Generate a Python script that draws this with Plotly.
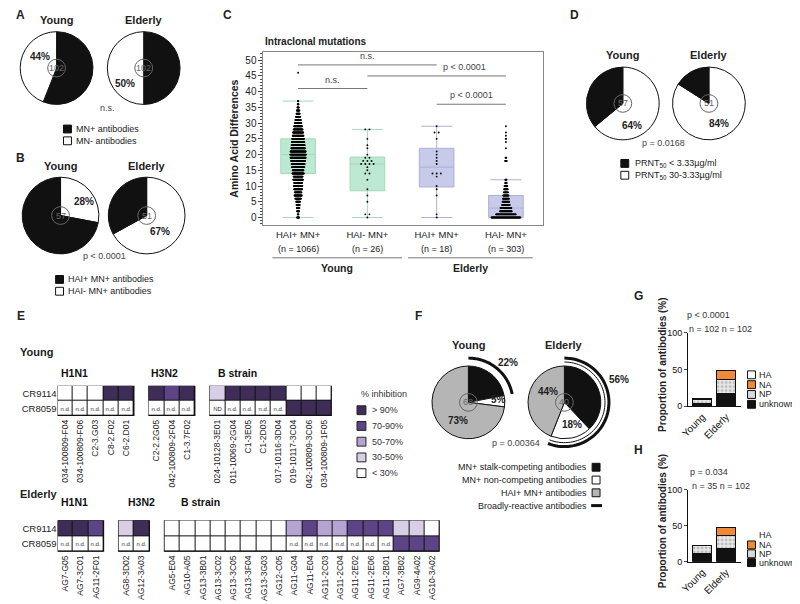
import math
from collections import Counter
import plotly.graph_objects as go

# the page adds an 8px body margin, so the figure is drawn 8px smaller and
# every reference pixel position is shifted by that offset
OFF = 8
W, H = 800 - OFF, 604 - OFF
FONT = "Arial, Liberation Sans, sans-serif"
BLACK = "#111111"
GREY = "#b5b5b5"
ORANGE = "#ef8a3a"
PURPLES = ["#ffffff", "#d8cfe6", "#b5a4d2", "#5d4487", "#3e2d57"]

# ---- panel A / B / D / F pie data (Young, Elderly) ----
a_mn_pos = [56, 50]
a_mn_neg = [44, 50]
a_n = [102, 102]

b_hai_neg = [28, 67]
b_hai_pos = [72, 33]
b_n = [57, 51]

d_high = [64, 84]
d_low = [36, 16]
d_n = [57, 51]

f_stalk = [22, 38]
f_noncomp = [5, 18]
f_hai = [73, 44]
f_broad = [22, 56]
f_n = [68, 40]

# ---- panel C ----
c_labels = ["HAI+ MN+", "HAI- MN+", "HAI+ MN+", "HAI- MN+"]
c_n = [1066, 26, 18, 303]
c_q1 = [14, 8.5, 9.7, 0]
c_median = [20, 17, 16, 3]
c_q3 = [25, 19.2, 22, 7]
c_lowfence = [0, 0, 0, 0]
c_upfence = [37, 28, 29, 12]

c_yhp_values = list(range(38)) + [46]
c_yhp_counts = [8, 4, 8, 10, 12, 14, 20, 26, 24, 28, 30, 28, 34, 32, 40, 38, 44, 46,
                49, 53, 55, 53, 48, 46, 44, 42, 38, 36, 32, 28, 24, 20, 16, 12, 10, 6, 4, 3, 1]
c_yhn_points = [0, 1, 1, 5, 7, 9, 12, 14, 14, 15, 16, 17, 17, 17, 17, 18, 18, 18, 19, 19,
                20, 22, 23, 25, 28, 28]
c_ehp_points = [0, 1, 7, 9, 10, 13, 14, 14, 14, 17, 18, 19, 20, 21, 25, 27, 27, 29]
c_ehn_values = [0, 1, 2, 3, 4, 5, 6, 7, 8, 9, 10, 11, 12, 18, 19, 22, 24, 25, 26, 27, 29]
c_ehn_counts = [73, 50, 30, 28, 20, 18, 16, 14, 12, 10, 8, 5, 4, 5, 3, 1, 1, 2, 1, 1, 1]

# ---- panel E (codes: 0 <30, 1 30-50, 2 50-70, 3 70-90, 4 >90, -1 n.d., -2 ND) ----
ey_h1_names = ["034-100809-F04", "034-100809-F06", "C2-3.G03", "C8-2.F02", "C6-2.D01"]
ey_h1_cr9114 = [0, 0, 0, 4, 4]
ey_h1_cr8059 = [-1, -1, -1, -1, -1]
ey_h3_names = ["C2-2.2G05", "042-100809-2F04", "C1-3.7F02"]
ey_h3_cr9114 = [4, 3, 4]
ey_h3_cr8059 = [-1, -1, -1]
ey_b_names = ["024-10128-3E01", "011-10069-2G04", "C1-3E05", "C1-2D03", "017-10116-3D04",
              "019-10117-3C04", "042-100809-3C06", "034-100809-1F05"]
ey_b_cr9114 = [1, 4, 4, 4, 4, 0, 0, 0]
ey_b_cr8059 = [-2, -1, -1, -1, -1, 4, 4, 4]

ee_h1_names = ["AG7-G05", "AG7-3C01", "AG11-2F01"]
ee_h1_cr9114 = [4, 4, 3]
ee_h1_cr8059 = [-1, -1, -1]
ee_h3_names = ["AG8-3D02", "AG12-3A03"]
ee_h3_cr9114 = [1, 4]
ee_h3_cr8059 = [-1, -1]
ee_b_names = ["AG5-E04", "AG10-A05", "AG13-3B01", "AG13-3C02", "AG13-3C05", "AG13-3F04",
              "AG13-3G03", "AG12-C05", "AG11-G04", "AG11-E04", "AG11-2C03", "AG11-2C04",
              "AG11-2E02", "AG11-2E06", "AG11-2B01", "AG7-3B02", "AG9-4A02", "AG10-3A02"]
ee_b_cr9114 = [0, 0, 0, 0, 0, 0, 0, 0, 2, 3, 2, 2, 3, 3, 3, 1, 1, 0]
ee_b_cr8059 = [0, 0, 0, 0, 0, 0, 0, 0, -1, -1, -1, -1, -1, -1, -1, 3, 3, 3]
e_rows = ["CR9114", "CR8059"]
e_legend = ["> 90%", "70-90%", "50-70%", "30-50%", "< 30%"]

# ---- panels G / H ----
gh_groups = ["Young", "Elderly"]
g_unknown = [4, 18]
g_np = [5, 18]
g_na = [1.5, 12]
g_ha = [0, 0]
h_unknown = [12, 19]
h_np = [11, 17]
h_na = [0, 12]
h_ha = [0, 0]


def px(x):
    return (x - OFF) / W


def py(y):
    return 1 - (y - OFF) / H


annotations = []
shapes = []


def txt(s, x, y, size=9, bold=False, xanchor="center", color="#222", angle=0):
    if bold:
        s = "<b>" + s + "</b>"
    annotations.append(dict(text=s, x=px(x), y=py(y), xref="paper", yref="paper",
                            showarrow=False, xanchor=xanchor, yanchor="middle",
                            textangle=angle, font=dict(family=FONT, size=size, color=color)))


def square(x, y, fill, size=8, line="#111"):
    h = size / 2
    shapes.append(dict(type="rect", xref="paper", yref="paper", x0=px(x - h), x1=px(x + h),
                       y0=py(y + h), y1=py(y - h), fillcolor=fill, line=dict(color=line, width=1)))


fig = go.Figure()


def add_pie(values, colors, cx, cy, r, n):
    fig.add_trace(go.Pie(
        values=values, sort=False, direction="clockwise", rotation=0,
        marker=dict(colors=colors, line=dict(color=BLACK, width=1)),
        textinfo="none", hoverinfo="skip", showlegend=False,
        domain=dict(x=[px(cx - r), px(cx + r)], y=[py(cy + r), py(cy - r)])))
    shapes.append(dict(type="circle", xref="paper", yref="paper", x0=px(cx - 9), x1=px(cx + 9),
                       y0=py(cy + 9), y1=py(cy - 9), line=dict(color="#666", width=1)))
    txt(str(n), cx, cy, size=9, color="#666")


# ---------- panel A ----------
txt("A", 13, 10, 12, True)
for i, (cx, g) in enumerate(zip([49, 137], ["Young", "Elderly"])):
    add_pie([a_mn_pos[i], a_mn_neg[i]], [BLACK, "white"], cx, 64, 37, a_n[i])
    txt(g, cx, 15, 11, True)
txt("%d%%" % a_mn_neg[0], 32, 52, 10, True)
txt("%d%%" % a_mn_neg[1], 118, 80, 10, True)
txt("n.s.", 100, 105, 9, color="#444")
square(60, 126, BLACK)
txt("MN+ antibodies", 67, 126, 9, xanchor="left")
square(60, 138, "white")
txt("MN- antibodies", 67, 138, 9, xanchor="left")

# ---------- panel B ----------
txt("B", 13, 155, 12, True)
for i, (cx, g) in enumerate(zip([53, 140], ["Young", "Elderly"])):
    add_pie([b_hai_neg[i], b_hai_pos[i]], ["white", BLACK], cx, 214, 39, b_n[i])
    txt(g, cx, 164, 11, True)
txt("%d%%" % b_hai_neg[0], 77, 200, 10, True)
txt("%d%%" % b_hai_neg[1], 153, 230, 10, True)
txt("p < 0.0001", 97, 255, 9, color="#444")
square(52, 279, BLACK)
txt("HAI+ MN+ antibodies", 59, 279, 9, xanchor="left")
square(52, 291, "white")
txt("HAI- MN+ antibodies", 59, 291, 9, xanchor="left")

# ---------- panel D ----------
txt("D", 572, 10, 12, True)
for i, (cx, g) in enumerate(zip([621, 708], ["Young", "Elderly"])):
    add_pie([d_high[i], d_low[i]], ["white", BLACK], cx, 100, 37, d_n[i])
    txt(g, cx, 51, 11, True)
txt("%d%%" % d_high[0], 630, 122, 10, True)
txt("%d%%" % d_high[1], 718, 120, 10, True)
txt("p = 0.0168", 662, 140, 9, color="#444")
square(623, 161, BLACK)
txt("PRNT<sub>50</sub> < 3.33µg/ml", 631, 161, 9, xanchor="left")
square(623, 173, "white")
txt("PRNT<sub>50</sub> 30-3.33µg/ml", 631, 173, 9, xanchor="left")

# ---------- panel F ----------
txt("F", 415, 316, 12, True)


def arc_path(cx, cy, r, f0, f1, n=60):
    pts = []
    for k in range(n + 1):
        a = 2 * math.pi * (f0 + (f1 - f0) * k / n)
        pts.append("%.5f,%.5f" % (px(cx + r * math.sin(a)), py(cy - r * math.cos(a))))
    return "M " + " L ".join(pts)


for i, (cx, g) in enumerate(zip([465, 562], ["Young", "Elderly"])):
    add_pie([f_stalk[i], f_noncomp[i], f_hai[i]], [BLACK, "white", GREY], cx, 404, 37, f_n[i])
    txt(g, cx, 346, 11, True)
    shapes.append(dict(type="path", xref="paper", yref="paper",
                       path=arc_path(cx, 404, 45, 0, f_broad[i] / 100),
                       line=dict(color=BLACK, width=3)))
shapes.append(dict(type="path", xref="paper", yref="paper",
                   path=arc_path(562, 404, 41, 0, f_broad[1] / 100),
                   line=dict(color=BLACK, width=1)))
txt("%d%%" % f_broad[0], 505, 363, 10, True)
txt("%d%%" % f_noncomp[0], 495, 401, 10, True)
txt("%d%%" % f_hai[0], 455, 422, 10, True)
txt("%d%%" % f_hai[1], 545, 393, 10, True)
txt("%d%%" % f_noncomp[1], 570, 427, 10, True)
txt("%d%%" % f_broad[1], 617, 381, 10, True)
txt("p = 0.00364", 513, 445, 9, color="#444")
for y, lab, fill in [(470, "MN+ stalk-competing antibodies", BLACK),
                     (483, "MN+ non-competing antibodies", "white"),
                     (496, "HAI+ MN+ antibodies", GREY)]:
    txt(lab, 587, y, 9, xanchor="right")
    square(594, y, fill)
txt("Broadly-reactive antibodies", 587, 509, 9, xanchor="right")
shapes.append(dict(type="line", xref="paper", yref="paper", x0=px(589), x1=px(600),
                   y0=py(509), y1=py(509), line=dict(color=BLACK, width=3)))

# ---------- panel C ----------
txt("C", 222, 10, 12, True)
txt("Intraclonal mutations", 258, 37, 10, True, xanchor="left")
txt("Amino Acid Differences", 228, 136, 10.5, True, angle=-90)


def swarm(center, values, counts, step):
    # lay each value's points side by side in one row
    xs, ys = [], []
    for v, n in zip(values, counts):
        for k in range(n):
            xs.append(center + (k - (n - 1) / 2) * step)
            ys.append(v)
    return xs, ys


for idxs, fill, line in [([0, 1], "#bde8d2", "#a3d8bc"), ([2, 3], "#c8cae9", "#aeb1da")]:
    fig.add_trace(go.Box(
        x=idxs, q1=[c_q1[i] for i in idxs], median=[c_median[i] for i in idxs],
        q3=[c_q3[i] for i in idxs], lowerfence=[c_lowfence[i] for i in idxs],
        upperfence=[c_upfence[i] for i in idxs], fillcolor=fill,
        line=dict(color=line, width=1), width=0.5, whiskerwidth=0.9,
        hoverinfo="skip", showlegend=False, xaxis="x", yaxis="y"))

cnt_yhn = sorted(Counter(c_yhn_points).items())
cnt_ehp = sorted(Counter(c_ehp_points).items())
point_sets = [
    (0, c_yhp_values, c_yhp_counts, 0.0042),
    (1, [v for v, _ in cnt_yhn], [c for _, c in cnt_yhn], 0.06),
    (2, [v for v, _ in cnt_ehp], [c for _, c in cnt_ehp], 0.06),
    (3, c_ehn_values, c_ehn_counts, 0.0058),
]
for center, vals, cnts, step in point_sets:
    xs, ys = swarm(center, vals, cnts, step)
    fig.add_trace(go.Scatter(x=xs, y=ys, mode="markers", marker=dict(color="black", size=1.9),
                             hoverinfo="skip", showlegend=False, xaxis="x", yaxis="y"))

brackets = [(0, 2, 48.5, "n.s.", 1.0), (0, 1, 41, "n.s.", 0.5),
            (1, 3, 45, "p < 0.0001", 2.4), (2, 3, 36, "p < 0.0001", 2.5)]
for a, b, h, lab, lx in brackets:
    shapes.append(dict(type="line", xref="x", yref="y", x0=a, x1=b, y0=h, y1=h,
                       line=dict(color="#777", width=1)))
    annotations.append(dict(text=lab, x=lx, y=h + 0.6, xref="x", yref="y", showarrow=False,
                            yanchor="bottom", font=dict(family=FONT, size=9, color="#444")))
for i, n in enumerate(c_n):
    annotations.append(dict(text="(n = %d)" % n, x=i, y=py(248), xref="x", yref="paper",
                            showarrow=False, font=dict(family=FONT, size=9, color="#222")))
for x0, x1, lab in [(267, 398, "Young"), (404, 530, "Elderly")]:
    shapes.append(dict(type="line", xref="paper", yref="paper", x0=px(x0), x1=px(x1),
                       y0=py(257), y1=py(257), line=dict(color="#777", width=1)))
    txt(lab, (x0 + x1) / 2, 267, 10.5, True)

# ---------- panel E ----------
txt("E", 13, 316, 12, True)
txt("Young", 10, 353, 11, True, xanchor="left")
txt("Elderly", 10, 497, 11, True, xanchor="left")


def build_rows(groups):
    z, text, tv, tt, spans = [[], []], [[], []], [], [], []
    col = 0
    for gi, (names, r1, r2) in enumerate(groups):
        if gi > 0:
            for row in (0, 1):
                z[row].append(None)
                text[row].append(" ")
            col += 1
        start = col
        for name, c1, c2 in zip(names, r1, r2):
            for row, code in ((0, c1), (1, c2)):
                z[row].append(max(code, 0))
                text[row].append({-1: "n.d.", -2: "ND"}.get(code, " "))
            tv.append(col)
            tt.append(name)
            col += 1
        spans.append((start, col - 1))
    return z, text, tv, tt, spans


cscale = []
for k, c in enumerate(PURPLES):
    cscale += [[k / 5, c], [(k + 1) / 5, c]]

young_groups = [(ey_h1_names, ey_h1_cr9114, ey_h1_cr8059),
                (ey_h3_names, ey_h3_cr9114, ey_h3_cr8059),
                (ey_b_names, ey_b_cr9114, ey_b_cr8059)]
eld_groups = [(ee_h1_names, ee_h1_cr9114, ee_h1_cr8059),
              (ee_h3_names, ee_h3_cr9114, ee_h3_cr8059),
              (ee_b_names, ee_b_cr9114, ee_b_cr8059)]
layout_axes = {}
for ax, groups, (xl, xr), (yt, yb), title_y, shifts, tsize in [
        ("2", young_groups, (50, 327), (387, 418), 374, [1, 0, 6], 8.5),
        ("3", eld_groups, (50, 436), (524, 556), 513, [1, 7, 14], 8.5)]:
    z, text, tv, tt, spans = build_rows(groups)
    ncol = len(z[0])
    fig.add_trace(go.Heatmap(z=z, text=text, texttemplate="%{text}",
                             textfont=dict(family=FONT, size=6, color="#333"),
                             x=list(range(ncol)), y=[0, 1], colorscale=cscale,
                             zmin=-0.5, zmax=4.5, showscale=False, xgap=1, ygap=1,
                             hoverinfo="skip", xaxis="x" + ax, yaxis="y" + ax))
    for (s, e), gname, sh in zip(spans, ["H1N1", "H3N2", "B strain"], shifts):
        shapes.append(dict(type="rect", xref="x" + ax, yref="y" + ax, x0=s - 0.5, x1=e + 0.5,
                           y0=-0.5, y1=1.5, fillcolor=BLACK, line=dict(color=BLACK, width=1.5),
                           layer="below"))
        annotations.append(dict(text="<b>" + gname + "</b>", x=s - 0.5, y=py(title_y),
                                xref="x" + ax, yref="paper", xanchor="left", xshift=sh,
                                showarrow=False, font=dict(family=FONT, size=10.5, color="#111")))
    layout_axes["xaxis" + ax] = dict(domain=[px(xl), px(xr)], range=[-0.5, ncol - 0.5],
                                     tickvals=tv, ticktext=tt, tickangle=-90, ticks="",
                                     ticklabelstandoff=1,
                                     showgrid=False, zeroline=False, showline=False,
                                     tickfont=dict(family=FONT, size=tsize, color="#222"),
                                     anchor="y" + ax)
    layout_axes["yaxis" + ax] = dict(domain=[py(yb), py(yt)], range=[1.5, -0.5],
                                     tickvals=[0, 1], ticktext=e_rows, ticks="",
                                     showgrid=False, zeroline=False, showline=False,
                                     tickfont=dict(family=FONT, size=9.5, color="#222"),
                                     anchor="x" + ax)

txt("% inhibition", 380, 396, 9, color="#333")
for k, lab in enumerate(e_legend):
    y = 412 + 16 * k
    square(357, y, PURPLES[4 - k], size=9, line="#222")
    txt(lab, 366, y, 9, xanchor="left", color="#333")

# ---------- panels G / H ----------
for ax, letter, (y0, y100), unk, np_, na, ha, ptxt, ntxt, pyy, leg_rows, ha_box in [
        ("4", "G", (408, 333), g_unknown, g_np, g_na, g_ha, "p < 0.0001",
         "n = 102 n = 102", 296, [376, 386, 396, 406], True),
        ("5", "H", (566, 493), h_unknown, h_np, h_na, h_ha, "p = 0.034",
         "n = 35 n = 102", 452, [539, 549, 558, 567], False)]:
    common = dict(x=gh_groups, width=0.8, hoverinfo="skip", showlegend=False,
                  xaxis="x" + ax, yaxis="y" + ax)
    fig.add_trace(go.Bar(y=unk, marker=dict(color=BLACK, line=dict(color=BLACK, width=1)), **common))
    fig.add_trace(go.Bar(y=np_, marker=dict(color="#ececec", line=dict(color=BLACK, width=1),
                                            pattern=dict(shape=".", fgcolor="#888", bgcolor="#ececec",
                                                         size=4, solidity=0.45)), **common))
    fig.add_trace(go.Bar(y=na, marker=dict(color=ORANGE, line=dict(color=BLACK, width=1)), **common))
    fig.add_trace(go.Bar(y=ha, marker=dict(color="white", line=dict(color=BLACK, width=1)), **common))
    layout_axes["xaxis" + ax] = dict(domain=[px(687), px(740)], range=[-0.6, 1.6],
                                     showline=True, linecolor=BLACK, ticks="", tickangle=-45,
                                     tickfont=dict(family=FONT, size=10, color="#111"),
                                     showgrid=False, zeroline=False, anchor="y" + ax)
    layout_axes["yaxis" + ax] = dict(domain=[py(y0), py(y100)], range=[0, 100],
                                     tickvals=[0, 50, 100], ticks="outside", ticklen=3,
                                     showline=True, linecolor=BLACK, showgrid=False,
                                     zeroline=False, tickfont=dict(family=FONT, size=9, color="#111"),
                                     anchor="x" + ax)
    txt(letter, 637, pyy, 12, True)
    txt(ptxt, 708, y100 - 18, 9, color="#333")
    txt(ntxt, 720, y100 - 4, 9, color="#333")
    txt("Proportion of antibodies (%)", 661, (y0 + y100) / 2 - 5, 10, True, angle=-90)
    for y, lab, fill in zip(leg_rows, ["HA", "NA", "NP", "unknown"],
                            ["white", ORANGE, "#d9d9d9", BLACK]):
        if lab != "HA" or ha_box:
            square(751, y, fill)
        txt(lab, 757, y, 9, xanchor="left", color="#222")

fig.update_layout(
    width=W, height=H, margin=dict(l=0, r=0, t=0, b=0),
    paper_bgcolor="white", plot_bgcolor="rgba(0,0,0,0)",
    barmode="stack", showlegend=False,
    font=dict(family=FONT, size=9, color="#222"),
    xaxis=dict(domain=[px(258), px(540)], range=[-0.5, 3.53], tickvals=[0, 1, 2, 3],
               ticktext=c_labels, ticks="", showline=True, mirror=True, linecolor="#888",
               showgrid=False, zeroline=False, tickfont=dict(family=FONT, size=9.5, color="#222")),
    yaxis=dict(domain=[py(224), py(48)], range=[-2.5, 52.5], tickvals=list(range(0, 51, 5)),
               ticks="outside", ticklen=4, showline=True, mirror=True, linecolor="#888",
               showgrid=False, zeroline=False, minor=dict(ticks="outside", ticklen=2, dtick=1),
               tickfont=dict(family=FONT, size=10, color="#222")),
    annotations=annotations, shapes=shapes,
    **layout_axes)

fig.write_html("out.html")
